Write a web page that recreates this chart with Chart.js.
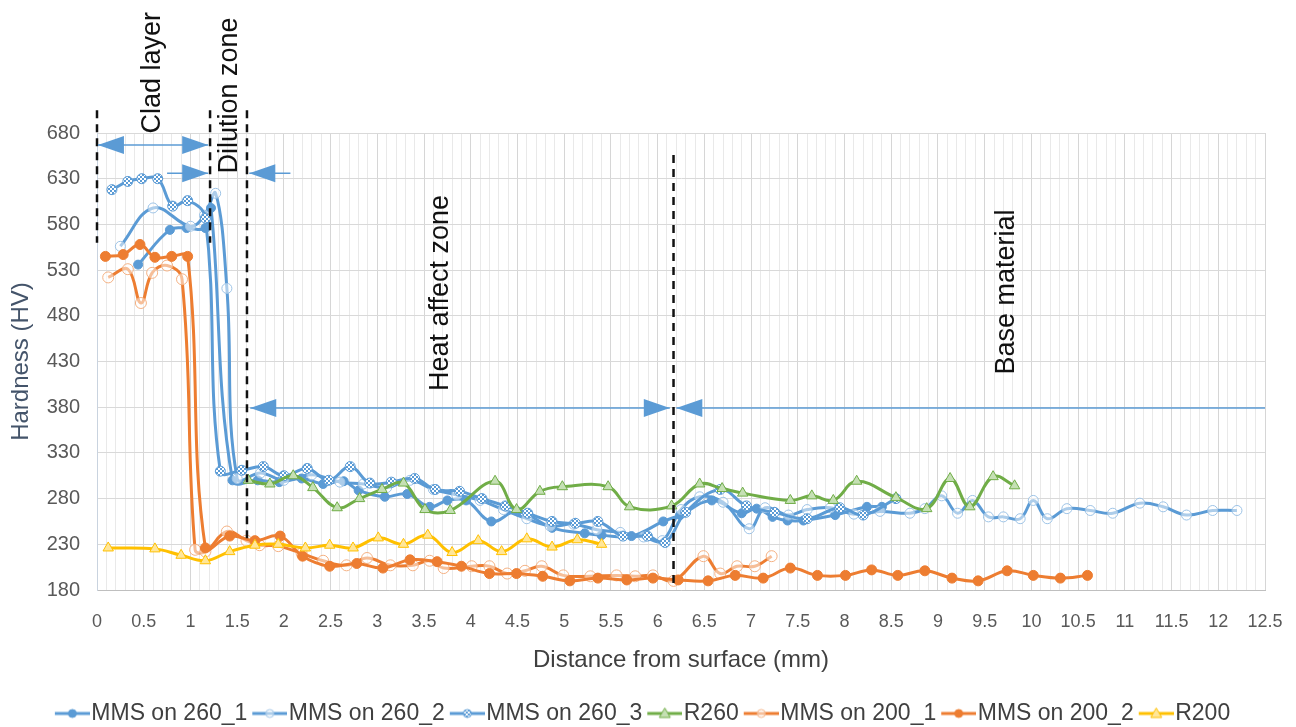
<!DOCTYPE html>
<html>
<head>
<meta charset="utf-8">
<title>Hardness profile</title>
<script src="https://cdn.jsdelivr.net/npm/chart.js@4.4.1/dist/chart.umd.min.js"></script>
<style>
  html, body { margin: 0; padding: 0; background: #fff; }
  canvas { display: block; }
</style>
</head>
<body>
<canvas id="hardness" width="1296" height="727"></canvas>
<script>
// distance from surface (mm) / hardness (HV)
const mms260_1_x = [0.44, 0.78, 0.96, 1.16, 1.22, 1.45, 1.72, 1.95, 2.19, 2.42, 2.64, 2.8, 3.08, 3.32, 3.56, 3.75, 3.95, 4.22, 4.5, 4.87, 5.22, 5.4, 5.72, 6.06, 6.24, 6.58, 6.9, 7.06, 7.23, 7.39, 7.56, 7.9, 8.24, 8.4];
const mms260_1_y = [536, 574, 576, 576, 598, 300, 300, 298, 302, 296, 299, 289, 282, 285, 271, 278, 278, 255, 266, 248, 242, 240, 239, 255, 262, 278, 264, 269, 260, 256, 256, 262, 271, 271];

const mms260_2_x = [0.25, 0.6, 1.0, 1.15, 1.27, 1.39, 1.5, 1.75, 2.0, 2.3, 2.6, 2.85, 3.1, 3.35, 3.6, 3.85, 4.1, 4.35, 4.6, 4.85, 5.1, 5.35, 5.6, 5.85, 6.05, 6.25, 6.45, 6.7, 6.98, 7.15, 7.4, 7.6, 7.85, 8.1, 8.38, 8.7, 8.86, 9.04, 9.21, 9.37, 9.54, 9.7, 9.88, 10.02, 10.17, 10.38, 10.63, 10.87, 11.16, 11.41, 11.66, 11.94, 12.2];
const mms260_2_y = [556, 598, 578, 590, 614, 510, 302, 308, 300, 306, 298, 296, 292, 300, 290, 284, 278, 268, 258, 250, 252, 246, 243, 238, 234, 268, 282, 276, 247, 270, 262, 268, 270, 263, 266, 264, 269, 283, 264, 278, 260, 260, 258, 278, 258, 269, 267, 264, 275, 271, 262, 267, 267];

const mms260_3_x = [0.16, 0.33, 0.48, 0.65, 0.81, 0.97, 1.16, 1.32, 1.55, 1.78, 2.0, 2.25, 2.48, 2.71, 2.92, 3.15, 3.4, 3.62, 3.88, 4.12, 4.37, 4.61, 4.87, 5.12, 5.36, 5.63, 5.89, 6.08, 6.3, 6.67, 6.95, 7.25, 7.6, 7.95, 8.2, 8.55];
const mms260_3_y = [618, 627, 630, 630, 600, 606, 587, 310, 311, 315, 305, 313, 300, 315, 297, 298, 302, 290, 288, 280, 272, 264, 255, 253, 255, 239, 239, 232, 265, 290, 272, 265, 258, 270, 262, 280];

const r260_x = [1.62, 1.85, 2.1, 2.31, 2.57, 2.81, 3.05, 3.28, 3.51, 3.78, 4.26, 4.49, 4.74, 4.98, 5.47, 5.7, 6.15, 6.45, 6.69, 6.91, 7.42, 7.65, 7.88, 8.13, 8.55, 8.88, 9.13, 9.34, 9.59, 9.82];
const r260_y = [300, 296, 305, 292, 270, 280, 290, 297, 268, 267, 299, 268, 288, 293, 293, 271, 272, 296, 291, 286, 278, 283, 278, 299, 281, 269, 302, 271, 304, 294];

const mms200_1_x = [0.12, 0.33, 0.47, 0.59, 0.75, 0.91, 1.05, 1.16, 1.39, 1.6, 1.74, 1.94, 2.19, 2.42, 2.67, 2.89, 3.14, 3.38, 3.56, 3.71, 4.01, 4.2, 4.39, 4.58, 4.76, 4.99, 5.28, 5.56, 5.76, 5.95, 6.17, 6.49, 6.67, 6.85, 7.04, 7.22];
const mms200_1_y = [522, 531, 494, 527, 535, 520, 224, 222, 244, 234, 229, 228, 220, 212, 207, 215, 207, 207, 212, 204, 206, 206, 198, 201, 206, 196, 195, 196, 195, 196, 190, 217, 198, 206, 206, 217];

const mms200_2_x = [0.09, 0.28, 0.46, 0.62, 0.8, 0.97, 1.16, 1.42, 1.69, 1.96, 2.2, 2.49, 2.78, 3.06, 3.35, 3.64, 3.9, 4.2, 4.49, 4.77, 5.06, 5.36, 5.67, 5.95, 6.22, 6.54, 6.83, 7.13, 7.42, 7.71, 8.01, 8.29, 8.57, 8.86, 9.15, 9.43, 9.74, 10.02, 10.31, 10.6];
const mms200_2_y = [545, 547, 558, 544, 545, 545, 226, 239, 234, 239, 217, 206, 209, 204, 213, 211, 206, 198, 198, 195, 190, 193, 191, 193, 191, 190, 196, 193, 204, 196, 196, 202, 196, 201, 193, 190, 201, 196, 193, 196];

const r200_x = [0.12, 0.62, 0.9, 1.16, 1.42, 1.69, 1.94, 2.23, 2.49, 2.74, 3.01, 3.28, 3.54, 3.8, 4.08, 4.33, 4.6, 4.87, 5.14, 5.4];
const r200_y = [226, 225, 218, 212, 222, 229, 230, 226, 229, 226, 237, 230, 240, 221, 234, 222, 236, 227, 235, 230];

const yTicks = [180, 230, 280, 330, 380, 430, 480, 530, 580, 630, 680];
const xTickLabels = ['0', '0.5', '1', '1.5', '2', '2.5', '3', '3.5', '4', '4.5', '5', '5.5', '6', '6.5', '7', '7.5', '8', '8.5', '9', '9.5', '10', '10.5', '11', '11.5', '12', '12.5'];

// zone markers drawn on top (values in mm / HV)
const guideLines = [
  { x: 0, from: 705, to: 560 },
  { x: 1.21, from: 705, to: 560 },
  { x: 1.605, from: 705, to: 232 },
  { x: 6.17, from: 656, to: 184 }
];
const arrows = [
  { from: 0.01, to: 1.19, y: 667, start: true, end: true },
  { from: 0.75, to: 1.19, y: 636, start: false, end: true },
  { from: 1.63, to: 2.07, y: 636, start: true, end: false },
  { from: 1.64, to: 6.13, y: 379, start: true, end: true },
  { from: 6.2, to: 12.5, y: 379, start: true, end: false }
];
const zoneLabels = [
  { text: 'Clad layer', x: 0.59, y: 746 },
  { text: 'Dilution zone', x: 1.42, y: 721 },
  { text: 'Heat affect zone', x: 3.68, y: 505 },
  { text: 'Base material', x: 9.73, y: 506 }
];

const BLUE = '#5B9BD5', GREEN = '#70AD47', ORANGE = '#ED7D31', GOLD = '#FFC000';

// checkered fill for the MMS on 260_3 markers
const patCanvas = document.createElement('canvas');
patCanvas.width = 4; patCanvas.height = 4;
(function () {
  const p = patCanvas.getContext('2d');
  p.fillStyle = '#fff'; p.fillRect(0, 0, 4, 4);
  p.fillStyle = BLUE; p.fillRect(0, 0, 2, 2); p.fillRect(2, 2, 2, 2);
})();
const checker = document.createElement('canvas').getContext('2d').createPattern(patCanvas, 'repeat');

const series = [
  { label: 'MMS on 260_1', xs: mms260_1_x, ys: mms260_1_y, color: BLUE, style: 'circle', fill: BLUE, edge: BLUE, r: 4.5 },
  { label: 'MMS on 260_2', xs: mms260_2_x, ys: mms260_2_y, color: BLUE, style: 'circle', fill: 'rgba(255,255,255,0.5)', edge: '#9DC3E6', r: 5 },
  { label: 'MMS on 260_3', xs: mms260_3_x, ys: mms260_3_y, color: BLUE, style: 'circle', fill: checker, edge: BLUE, r: 5 },
  { label: 'R260', xs: r260_x, ys: r260_y, color: GREEN, style: 'triangle', fill: '#C5E0B4', edge: GREEN, r: 6 },
  { label: 'MMS on 200_1', xs: mms200_1_x, ys: mms200_1_y, color: ORANGE, style: 'circle', fill: 'rgba(255,255,255,0.5)', edge: '#F4B183', r: 5.5 },
  { label: 'MMS on 200_2', xs: mms200_2_x, ys: mms200_2_y, color: ORANGE, style: 'circle', fill: ORANGE, edge: ORANGE, r: 5 },
  { label: 'R200', xs: r200_x, ys: r200_y, color: GOLD, style: 'triangle', fill: '#FFE699', edge: GOLD, r: 6 }
];

// legend icon: line with the marker in the middle, left part kept empty
function legendIcon(s) {
  const c = document.createElement('canvas');
  c.width = 45; c.height = 16;
  const g = c.getContext('2d');
  g.strokeStyle = s.color; g.lineWidth = 3;
  g.beginPath(); g.moveTo(10, 8); g.lineTo(45, 8); g.stroke();
  g.fillStyle = s.fill; g.strokeStyle = s.edge; g.lineWidth = 1;
  g.beginPath();
  if (s.style === 'triangle') {
    g.moveTo(27.5, 2.5); g.lineTo(33, 12); g.lineTo(22, 12); g.closePath();
  } else {
    g.arc(27.5, 8, 4, 0, Math.PI * 2);
  }
  g.fill(); g.stroke();
  return c;
}
const icons = series.map(legendIcon);

function arrowHead(ctx, tipX, tipY, dir) {
  ctx.beginPath();
  ctx.moveTo(tipX, tipY);
  ctx.lineTo(tipX + dir * 26, tipY - 9);
  ctx.lineTo(tipX + dir * 26, tipY + 9);
  ctx.closePath();
  ctx.fill();
}

const zonePlugin = {
  id: 'zones',
  afterDatasetsDraw(chart) {
    const { ctx, scales: { x, y } } = chart;
    ctx.save();
    ctx.strokeStyle = '#111'; ctx.lineWidth = 2.5; ctx.setLineDash([8, 6]);
    guideLines.forEach(g => {
      const px = x.getPixelForValue(g.x);
      ctx.beginPath();
      ctx.moveTo(px, y.getPixelForValue(g.from));
      ctx.lineTo(px, y.getPixelForValue(g.to));
      ctx.stroke();
    });
    ctx.setLineDash([]);
    ctx.strokeStyle = BLUE; ctx.fillStyle = BLUE; ctx.lineWidth = 1.5;
    arrows.forEach(a => {
      const x1 = x.getPixelForValue(a.from), x2 = x.getPixelForValue(a.to), py = y.getPixelForValue(a.y);
      ctx.beginPath(); ctx.moveTo(x1, py); ctx.lineTo(x2, py); ctx.stroke();
      if (a.start) arrowHead(ctx, x1, py, 1);
      if (a.end) arrowHead(ctx, x2, py, -1);
    });
    ctx.fillStyle = '#111';
    ctx.font = '27px "Liberation Sans", Arial, sans-serif';
    ctx.textAlign = 'center'; ctx.textBaseline = 'middle';
    zoneLabels.forEach(t => {
      ctx.save();
      ctx.translate(x.getPixelForValue(t.x), y.getPixelForValue(t.y));
      ctx.rotate(-Math.PI / 2);
      ctx.fillText(t.text, 0, 0);
      ctx.restore();
    });
    ctx.restore();
  }
};

const isHalf = v => Math.abs(v * 2 - Math.round(v * 2)) < 1e-6;

new Chart(document.getElementById('hardness'), {
  type: 'line',
  data: {
    datasets: series.map((s, i) => ({
      label: s.label,
      data: s.xs.map((v, k) => ({ x: v, y: s.ys[k] })),
      borderColor: s.color,
      backgroundColor: s.color,
      borderWidth: 3,
      tension: 0.4,
      pointStyle: s.style,
      pointRadius: s.r,
      pointBackgroundColor: s.fill,
      pointBorderColor: s.edge,
      pointBorderWidth: 1,
      order: series.length - i
    }))
  },
  options: {
    responsive: false,
    animation: false,
    events: [],
    layout: { padding: { top: 133, right: 31, left: 20, bottom: -8 } },
    scales: {
      x: {
        type: 'linear',
        min: 0, max: 12.5,
        afterFit: s => { s.height = 107; s.paddingLeft = 0; s.paddingRight = 0; },
        ticks: {
          stepSize: 0.1,
          autoSkip: false,
          maxRotation: 0,
          padding: 21,
          color: '#595959',
          font: { family: '"Liberation Sans Narrow", "Liberation Sans", sans-serif', size: 18 },
          callback: v => isHalf(v) ? xTickLabels[Math.round(v * 2)] : ''
        },
        grid: {
          drawTicks: false,
          color: c => (c.tick && isHalf(c.tick.value)) ? '#d6d6d6' : '#e9e9e9'
        },
        border: { color: '#bfbfbf' },
        title: {
          display: true,
          text: 'Distance from surface (mm)',
          color: '#404040',
          font: { family: '"Liberation Sans", sans-serif', size: 24 },
          padding: { top: 0, bottom: 22 }
        }
      },
      y: {
        min: 180, max: 680,
        afterFit: s => { s.width = 77; },
        afterBuildTicks: s => { s.ticks = yTicks.map(v => ({ value: v })); },
        ticks: {
          padding: 17,
          color: '#595959',
          font: { family: '"Liberation Sans", sans-serif', size: 20 }
        },
        grid: { drawTicks: false, color: '#d9d9d9' },
        border: { color: '#c9d3df' },
        title: {
          display: true,
          text: 'Hardness (HV)',
          color: '#44546A',
          font: { family: '"Liberation Sans", sans-serif', size: 24 },
          padding: { top: -13, bottom: 0 }
        }
      }
    },
    plugins: {
      tooltip: { enabled: false },
      legend: {
        position: 'bottom',
        labels: {
          usePointStyle: true,
          pointStyleWidth: 25,
          padding: 5,
          color: '#404040',
          font: { family: '"Liberation Sans", sans-serif', size: 23 },
          sort: (a, b) => a.datasetIndex - b.datasetIndex,
          generateLabels(chart) {
            const items = Chart.defaults.plugins.legend.labels.generateLabels(chart);
            items.forEach(it => { it.pointStyle = icons[it.datasetIndex]; });
            return items;
          }
        }
      }
    }
  },
  plugins: [zonePlugin]
});
</script>
</body>
</html>
